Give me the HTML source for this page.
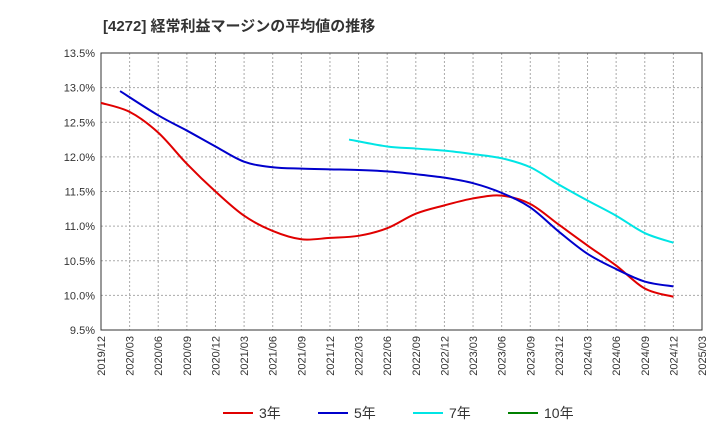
<!DOCTYPE html>
<html><head><meta charset="utf-8">
<style>
body{margin:0;background:#fff;font-family:"Liberation Sans","Noto Sans CJK JP",sans-serif;}
svg text{font-family:"Liberation Sans","Noto Sans CJK JP",sans-serif;}
</style></head>
<body>
<svg id="chart" width="720" height="440" xmlns="http://www.w3.org/2000/svg">
<text x="103" y="31" font-size="15" font-weight="bold" fill="#333">[4272]  経常利益マージンの平均値の推移</text>
<g id="grid"></g><g id="axes"></g><g id="series"></g><g id="legend"></g>
</svg>
<script>
const yTicks=[9.5,10,10.5,11,11.5,12,12.5,13,13.5];
const xTickLabels=["2019/12","2020/03","2020/06","2020/09","2020/12","2021/03","2021/06","2021/09","2021/12","2022/03","2022/06","2022/09","2022/12","2023/03","2023/06","2023/09","2023/12","2024/03","2024/06","2024/09","2024/12","2025/03"];
const months3=[0,3,6,9,12,15,18,21,24,27,30,33,36,39,42,45,48,51,54,57,60];
const vals3=[12.78,12.65,12.35,11.9,11.5,11.15,10.93,10.81,10.83,10.86,10.97,11.18,11.3,11.4,11.44,11.32,11.02,10.72,10.43,10.1,9.98];
const months5=[2,6,9,12,15,18,21,24,27,30,33,36,39,42,45,48,51,54,57,60];
const vals5=[12.95,12.6,12.38,12.15,11.93,11.85,11.83,11.82,11.81,11.79,11.75,11.7,11.62,11.48,11.27,10.92,10.6,10.38,10.2,10.13];
const months7=[26,30,33,36,39,42,45,48,51,54,57,60];
const vals7=[12.25,12.15,12.12,12.09,12.04,11.98,11.85,11.6,11.37,11.15,10.9,10.76];
const L=101,R=702,T=53,B=330;
const x=m=>L+(R-L)*m/63;
const y=v=>B-(B-T)*(v-9.5)/4;
const ns="http://www.w3.org/2000/svg";
function mk(tag,attrs,parent){const e=document.createElementNS(ns,tag);for(const k in attrs)e.setAttribute(k,attrs[k]);document.getElementById(parent).appendChild(e);return e;}
yTicks.forEach(v=>{
 const g=mk('line',{x1:L,x2:R,y1:y(v),y2:y(v),stroke:'#aaa','stroke-dasharray':'2,2'},'grid');
 
 const t=mk('text',{x:L-6,y:y(v)+4,'text-anchor':'end','font-size':11,fill:'#333'},'axes');
 t.textContent=v.toFixed(1)+'%';
 
});
xTickLabels.forEach((s,i)=>{
 const xx=x(i*3);
 const g=mk('line',{x1:xx,x2:xx,y1:T,y2:B,stroke:'#aaa','stroke-dasharray':'2,2'},'grid');
 
 const t=mk('text',{x:xx+4,y:B+6,'text-anchor':'end','font-size':11,fill:'#333',transform:`rotate(-90 ${xx+4} ${B+6})`},'axes');
 t.textContent=s;
 
});
const frame=mk('rect',{x:L,y:T,width:R-L,height:B-T,fill:'none',stroke:'#333'},'axes');

function path(ms,vs){const p=ms.map((m,i)=>[x(m),y(vs[i])]);let d=`M${p[0][0]},${p[0][1]}`;
 for(let i=0;i<p.length-1;i++){const p0=p[i-1]||p[i],p1=p[i],p2=p[i+1],p3=p[i+2]||p2;
  d+=` C${p1[0]+(p2[0]-p0[0])/6},${p1[1]+(p2[1]-p0[1])/6} ${p2[0]-(p3[0]-p1[0])/6},${p2[1]-(p3[1]-p1[1])/6} ${p2[0]},${p2[1]}`;}
 return d;}
[[months3,vals3,'#e00000','line-3yr'],[months5,vals5,'#0000cc','line-5yr'],[months7,vals7,'#00e5e5','line-7yr']].forEach(([m,v,c,n])=>{
 const e=mk('path',{d:path(m,v),fill:'none',stroke:c,'stroke-width':2},'series');
 
});
[['3年','#e00000',223],['5年','#0000cc',318],['7年','#00e5e5',413],['10年','#008000',508]].forEach(([s,c,lx])=>{
 const l=mk('line',{x1:lx,x2:lx+30,y1:413,y2:413,stroke:c,'stroke-width':2},'legend');
 
 const t=mk('text',{x:lx+36,y:418,'font-size':14,fill:'#333'},'legend');
 t.textContent=s;
 
});
</script>
</body></html>
